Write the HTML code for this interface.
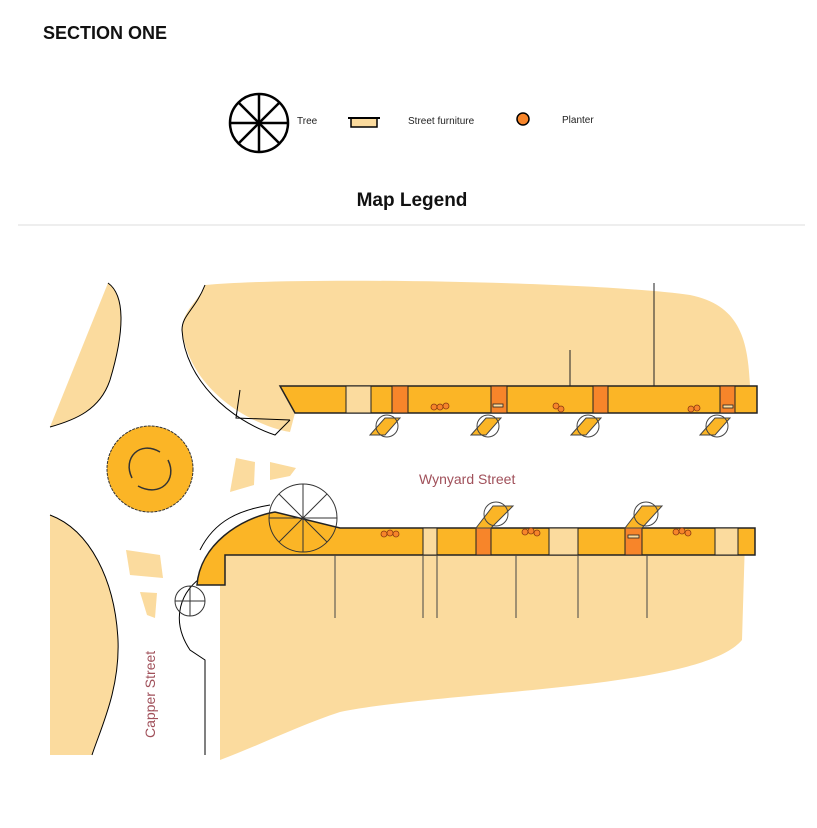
<!DOCTYPE html><html><head><style>body{margin:0;background:#fff;width:817px;height:823px;overflow:hidden;font-family:"Liberation Sans",Arial,sans-serif}</style></head><body>
<svg width="817" height="823" viewBox="0 0 817 823" xmlns="http://www.w3.org/2000/svg">
<text x="43" y="39" font-size="18" font-weight="bold" fill="#111">SECTION ONE</text>
<g stroke="#000" stroke-width="2.5" fill="none">
<circle cx="259" cy="123" r="29"/>
<line x1="259" y1="94" x2="259" y2="152"/><line x1="230" y1="123" x2="288" y2="123"/>
<line x1="238" y1="102" x2="280" y2="144"/><line x1="280" y1="102" x2="238" y2="144"/>
</g>
<text x="297" y="124" font-size="10" fill="#222">Tree</text>
<rect x="351" y="118" width="26" height="9" fill="#fbdb9e" stroke="#000" stroke-width="1.5"/>
<line x1="348" y1="118" x2="380" y2="118" stroke="#000" stroke-width="2"/>
<text x="408" y="124" font-size="10" fill="#222">Street furniture</text>
<circle cx="523" cy="119" r="6" fill="#f7852a" stroke="#000" stroke-width="1.5"/>
<text x="562" y="123" font-size="10" fill="#222">Planter</text>
<text x="412" y="206" font-size="19" font-weight="bold" text-anchor="middle" fill="#111">Map Legend</text>
<line x1="18" y1="225" x2="805" y2="225" stroke="#ddd"/>
<g fill="#fbdb9e">
<path d="M205,285 C300,276 600,282 690,295 C740,305 748,340 750,386 L295,413 L290,432 C250,425 190,390 182,330 C182,310 200,300 205,285Z"/>
<path d="M220,555 L745,540 L742,640 C700,690 450,690 340,712 C300,725 260,745 220,760 Z"/>
<path d="M108,283 C125,295 125,330 110,380 C100,410 75,420 50,427 Z"/>
<path d="M50,515 C90,530 115,580 118,640 C120,690 100,730 92,755 L50,755 Z"/>
<path d="M236,458 L255,462 L254,485 L230,492 Z"/>
<path d="M270,462 L296,468 L290,476 L270,480Z"/>
<path d="M126,550 L160,555 L163,578 L130,575Z"/>
<path d="M140,592 L157,593 L155,618 L147,615Z"/>
</g>
<g fill="none" stroke="#000" stroke-width="1">
<path d="M108,283 C125,295 125,330 110,380 C100,410 75,420 50,427"/>
<path d="M50,515 C90,530 115,580 118,640 C120,690 100,730 92,755"/>
<path d="M205,285 C195,310 182,315 182,330 C185,380 230,420 275,435 L290,420"/>
<path d="M240,390 L236,418 L290,420"/>
<path d="M205,575 C180,590 170,620 190,650 L205,660 L205,755"/>
<path d="M200,550 C215,520 240,510 270,505"/>
</g>
<circle cx="150" cy="469" r="43" fill="#fbb526" stroke="#333" stroke-dasharray="3,1"/>
<path d="M132,478 C122,458 140,440 160,452 M168,460 C178,480 160,498 138,486" fill="none" stroke="#333" stroke-width="1.5"/>
<!-- top band -->
<path d="M280,386 L757,386 L757,413 L295,413 Z" fill="#fbb526" stroke="#222" stroke-width="1.5"/>
<rect x="346" y="386" width="25" height="27" fill="#fbdb9e" stroke="#222"/>
<g fill="#f7852a" stroke="#222"><rect x="392" y="386" width="16" height="27"/><rect x="491" y="386" width="16" height="27"/><rect x="593" y="386" width="15" height="27"/><rect x="720" y="386" width="15" height="27"/></g>
<line x1="570" y1="350" x2="570" y2="386" stroke="#222"/><line x1="654" y1="283" x2="654" y2="386" stroke="#222"/>
<!-- bottom band -->
<path d="M340,528 L755,528 L755,555 L225,555 L225,585 L197,585 C200,545 240,518 275,512 Z" fill="#fbb526" stroke="#222" stroke-width="1.5"/>
<g fill="#fbdb9e" stroke="#222"><rect x="423" y="528" width="14" height="27"/><rect x="549" y="528" width="29" height="27"/><rect x="715" y="528" width="23" height="27"/></g>
<g fill="#f7852a" stroke="#222"><rect x="476" y="528" width="15" height="27"/><rect x="625" y="528" width="17" height="27"/></g>
<g stroke="#444"><line x1="335" y1="555" x2="335" y2="618"/><line x1="423" y1="555" x2="423" y2="618"/><line x1="437" y1="555" x2="437" y2="618"/><line x1="516" y1="555" x2="516" y2="618"/><line x1="578" y1="555" x2="578" y2="618"/><line x1="647" y1="555" x2="647" y2="618"/></g>
<!-- trees -->
<g fill="none" stroke="#333" stroke-width="1">
<circle cx="303" cy="518" r="34"/><line x1="269" y1="518" x2="337" y2="518"/><line x1="303" y1="484" x2="303" y2="552"/><line x1="279" y1="494" x2="327" y2="542"/><line x1="327" y1="494" x2="279" y2="542"/>
<circle cx="190" cy="601" r="15"/><line x1="175" y1="601" x2="205" y2="601"/><line x1="190" y1="586" x2="190" y2="616"/>
</g>
<g fill="#fbb526" stroke="#444" stroke-width="1">
<path d="M370,435 L385,418 L400,418 L385,435Z"/><circle cx="387" cy="426" r="11" fill="none"/>
<path d="M471,435 L486,418 L501,418 L486,435Z"/><circle cx="488" cy="426" r="11" fill="none"/>
<path d="M571,435 L586,418 L601,418 L586,435Z"/><circle cx="588" cy="426" r="11" fill="none"/>
<path d="M700,435 L715,418 L730,418 L715,435Z"/><circle cx="717" cy="426" r="11" fill="none"/>
<path d="M476,528 L493,506 L513,506 L491,528Z"/><circle cx="496" cy="514" r="12" fill="none"/>
<path d="M625,528 L642,506 L662,506 L642,528Z"/><circle cx="646" cy="514" r="12" fill="none"/>
</g>
<g fill="#f7852a" stroke="#8a3a10" stroke-width="0.8">
<circle cx="434" cy="407" r="3"/><circle cx="440" cy="407" r="3"/><circle cx="446" cy="406" r="3"/>
<circle cx="556" cy="406" r="3"/><circle cx="561" cy="409" r="3"/>
<circle cx="691" cy="409" r="3"/><circle cx="697" cy="408" r="3"/>
<circle cx="384" cy="534" r="3"/><circle cx="390" cy="533" r="3"/><circle cx="396" cy="534" r="3"/>
<circle cx="525" cy="532" r="3"/><circle cx="531" cy="531" r="3"/><circle cx="537" cy="533" r="3"/>
<circle cx="676" cy="532" r="3"/><circle cx="682" cy="531" r="3"/><circle cx="688" cy="533" r="3"/>
</g>
<g fill="#fbdb9e" stroke="#222" stroke-width="0.8"><rect x="493" y="404" width="10" height="3"/><rect x="723" y="405" width="10" height="3"/><rect x="628" y="535" width="11" height="3"/></g>
<text x="419" y="484" font-size="14" fill="#a0505a">Wynyard Street</text>
<text transform="translate(155,738) rotate(-90)" font-size="14" fill="#a0505a">Capper Street</text>
</svg>
</body></html>
